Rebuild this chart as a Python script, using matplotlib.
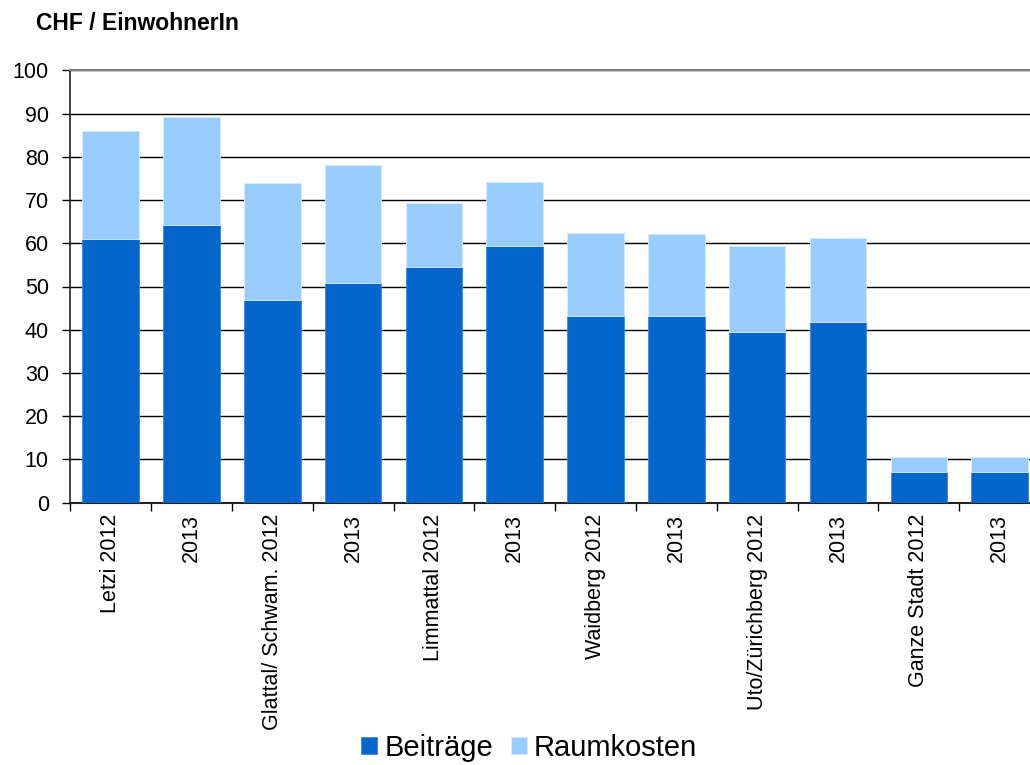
import matplotlib
matplotlib.use("Agg")
import matplotlib.pyplot as plt
import numpy as np

plt.rcParams['font.family'] = ['Liberation Sans', 'DejaVu Sans']

categories = ["Letzi 2012", "2013", "Glattal/ Schwam. 2012", "2013",
              "Limmattal 2012", "2013", "Waidberg 2012", "2013",
              "Uto/Zürichberg 2012", "2013", "Ganze Stadt 2012", "2013"]
beitraege = [61.1, 64.2, 46.9, 50.9, 54.6, 59.4, 43.2, 43.2, 39.5, 41.8, 7.2, 7.2]
totals = [86.0, 89.1, 73.9, 78.1, 69.4, 74.1, 62.3, 62.1, 59.4, 61.2, 10.5, 10.5]
raumkosten = [t - b for t, b in zip(totals, beitraege)]
yticks = list(range(0, 101, 10))

W, H = 1030, 765
fig = plt.figure(figsize=(W / 100, H / 100), dpi=100)
left, right, top, bottom = 70.3, 1040.0, 70.3, 502.7
ax = fig.add_axes([left / W, 1 - bottom / H, (right - left) / W, (bottom - top) / H])

x = np.arange(len(categories))
dark = '#0266CC'
light = '#99CCFF'
ax.bar(x, beitraege, width=0.70, color=dark, edgecolor='#3d8ad8', linewidth=0.6,
       label='Beiträge', zorder=3)
ax.bar(x, raumkosten, bottom=beitraege, width=0.70, color=light, edgecolor='#d6ebff',
       linewidth=0.6, label='Raumkosten', zorder=3)

ax.set_xlim(-0.5, len(categories) - 0.5)
ax.set_ylim(0, 100)
ax.set_yticks(yticks)
ax.tick_params(axis='y', labelsize=15.5, length=5.5, width=1, direction='out', pad=10,
               colors='black')
ax.set_xticks(x)
ax.set_xticklabels(categories, rotation=90, fontsize=15.5)
ax.tick_params(axis='x', which='major', length=0, pad=8)
ax.set_xticks(np.arange(-0.5, len(categories) + 0.5, 1), minor=True)
ax.tick_params(axis='x', which='minor', length=6, width=1, direction='out')

ax.yaxis.grid(True, color='black', linewidth=1.0, zorder=0)
ax.set_axisbelow(True)
ax.spines['right'].set_visible(False)
ax.spines['top'].set_color('#808080')
ax.spines['top'].set_linewidth(1.5)
ax.spines['left'].set_color('#222222')
ax.spines['bottom'].set_color('#222222')
ax.spines['left'].set_linewidth(1.2)
ax.spines['bottom'].set_linewidth(1.5)

fig.text(36 / W, 1 - 24 / H, 'CHF / EinwohnerIn', fontsize=16.5, fontweight='bold',
         va='center', ha='left')

leg = fig.legend(loc='center', bbox_to_anchor=(529 / W, 1 - 748 / H), ncol=2,
                 frameon=False, fontsize=21, handlelength=0.55, handleheight=0.55,
                 handletextpad=0.25, columnspacing=0.6, borderpad=0)

fig.savefig('out.png', dpi=100)
